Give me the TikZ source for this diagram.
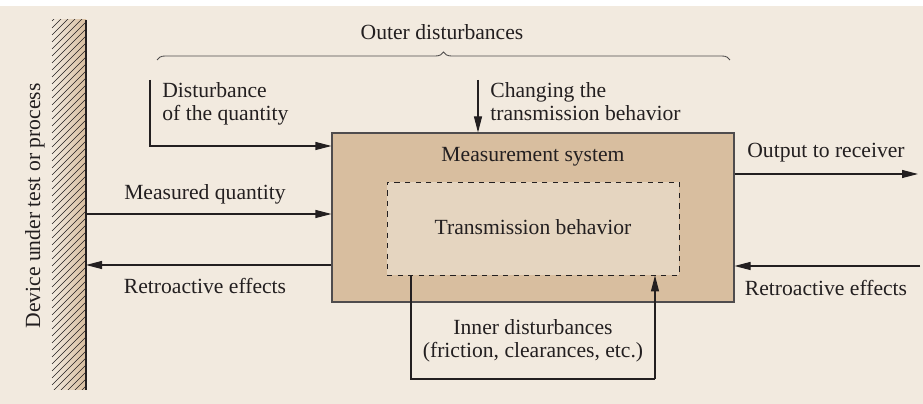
\documentclass[tikz,border=0pt]{standalone}
\usepackage{fontspec}
\setmainfont{Liberation Serif}
\usepackage{xcolor}
\usepackage{tikz}
\usetikzlibrary{arrows.meta,positioning,decorations.pathreplacing}
\definecolor{bgc}{HTML}{F2EADF}
\definecolor{sysc}{HTML}{D8BE9F}
\definecolor{innc}{HTML}{E5D5C0}
\definecolor{ink}{HTML}{231F20}
\tikzset{
  sysbox/.style={draw=ink!80, fill=sysc, line width=0.6pt, minimum width=8.04cm, minimum height=3.38cm},
  innbox/.style={draw=ink, fill=innc, dashed, line width=0.5pt, minimum width=5.84cm, minimum height=1.86cm},
  txt/.style={text=ink, align=left, inner sep=0pt},
  arr/.style={-{Triangle[length=3.2mm, width=1.6mm]}, line width=0.6pt, draw=ink},
  ln/.style={line width=0.6pt, draw=ink}
}

\begin{document}
\begin{tikzpicture}[font=\fontsize{12.3}{13}\selectfont]
\useasboundingbox (0,0) rectangle (18.46,8.08);
\fill[bgc] (0,0) rectangle (18.46,7.96);

% device under test (wall)
\begin{scope}
\clip (1.04,0.28) rectangle (1.72,7.68);
\shade[left color=bgc, right color=sysc] (1.04,0.28) rectangle (1.72,7.68);
\foreach \y in {-0.46,-0.32,...,7.8}
  \draw[ink, line width=0.3pt] (1.04,\y) -- ++(0.68,0.68);
\end{scope}
\draw[ink, line width=1.1pt] (1.72,0.28) -- (1.72,7.68);
\node[txt, rotate=90] (dut) at (0.70,3.96) {Device under test or process};
\coordinate (wmq) at (1.72,3.80);
\coordinate (wre) at (1.72,2.78);

% measurement system
\node[sysbox] (ms) at (10.66,3.73) {};
\node[innbox] (tb) at (10.66,3.51) {};
\node[txt] (mst) at (10.66,4.94) {Measurement system};
\node[txt] (tbt) at (10.66,3.54) {Transmission behavior};

% outer disturbances
\coordinate (bl) at (3.14,6.88);
\coordinate (br) at (14.60,6.88);
\draw[ink!80, line width=0.5pt, decorate, decoration={brace, amplitude=1.6mm}] (bl) -- (br);
\node[txt] (od) at (8.84,7.44) {Outer disturbances};

\node[txt, anchor=north west] (dq) at (3.24,6.44) {Disturbance\\of the quantity};
\coordinate (dqs) at (3.0,6.48);
\draw[arr] (dqs) |- (ms.west |- 0,5.16);

\node[txt, anchor=north west] (ct) at (9.80,6.44) {Changing the\\transmission behavior};
\coordinate (cts) at (9.56,6.48);
\draw[arr] (cts) -- (cts |- ms.north);

% input side
\draw[arr] (wmq) -- (wmq -| ms.west);
\node[txt] (mq) at (4.10,4.20) {Measured quantity};
\draw[arr] (wre -| ms.west) -- (wre);
\node[txt] (re1) at (4.10,2.36) {Retroactive effects};

% output side
\coordinate (out) at (18.36,4.60);
\draw[arr] (out -| ms.east) -- (out);
\node[txt] (ot) at (16.52,5.02) {Output to receiver};
\coordinate (rin) at (18.40,2.76);
\draw[arr] (rin) -- (rin -| ms.east);
\node[txt] (re2) at (16.52,2.32) {Retroactive effects};

% inner disturbances
\coordinate (il) at (8.22,0.50);
\coordinate (ir) at (13.10,0.50);
\draw[ln] (il |- tb.south) -- (il) -- (ir);
\draw[arr] (ir) -- (ir |- tb.south);
\node[txt, align=center] (id) at (10.66,1.26) {Inner disturbances\\(friction, clearances, etc.)};
\end{tikzpicture}
\end{document}
